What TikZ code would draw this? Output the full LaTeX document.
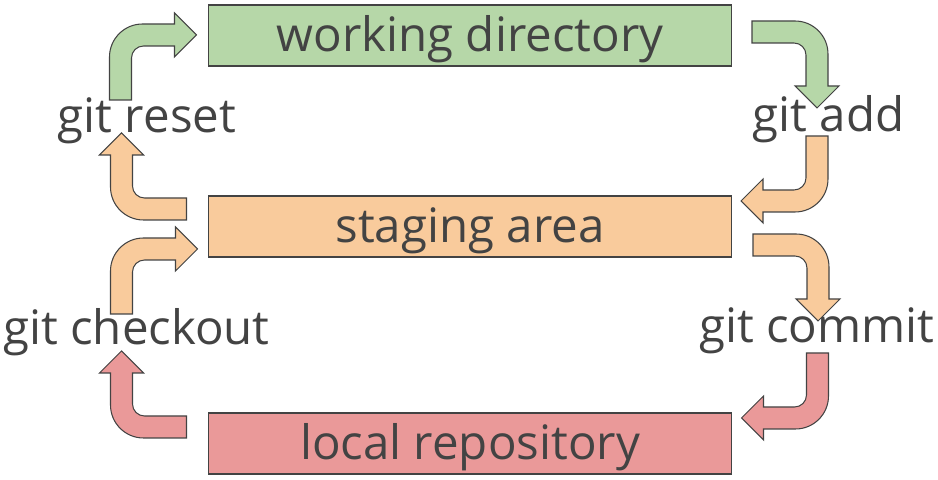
\documentclass[tikz,border=0pt]{standalone}
\usepackage{fontspec}
\setmainfont{Open Sans}
\usepackage{xcolor}
\usepackage{tikz}
\usetikzlibrary{positioning, calc}

\definecolor{wdgreen}{HTML}{B6D7A8}
\definecolor{saorange}{HTML}{F9CB9C}
\definecolor{lrred}{HTML}{EA9999}
\definecolor{edge}{HTML}{434343}
\definecolor{txt}{HTML}{434343}

% bent arrow: #1 fill, #2 corner of the bend, #3 rotation
\newcommand{\gitarrow}[3]{%
  \begin{scope}[shift={#2}, rotate=#3]
    \filldraw[fill=#1, draw=edge, line width=0.6pt, line join=miter]
      (-11,-65) -- (-11,-22) arc[start angle=180, end angle=90, radius=33]
      -- (54,11) -- (54,22) -- (76,0) -- (54,-22) -- (54,-11)
      -- (23,-11) arc[start angle=90, end angle=180, radius=12]
      -- (11,-65) -- cycle;
  \end{scope}}

\begin{document}
\begin{tikzpicture}[
    x=0.02cm, y=0.02cm,
    font=\fontsize{27}{32}\selectfont,
    stage/.style={draw=edge, line width=0.6pt, rectangle, minimum width=10.48cm, minimum height=1.22cm, inner sep=0pt, text height=0.66cm, text depth=0pt, text=txt},
    cmd/.style={anchor=base, text=txt, inner sep=0pt}
]
    \useasboundingbox (0,0) rectangle (938,480);

    % --- Areas ---
    \node[stage, fill=wdgreen] (work) at (470,444.5) {working directory};
    \node[stage, fill=saorange] (stage) at (470,253.5) {staging area};
    \node[stage, fill=lrred] (repo) at (470,36.5) {local repository};

    % --- Commands ---
    \node[cmd] (reset) at (147,347) {git reset};
    \node[cmd] (add) at (828.5,348) {git add};
    \node[cmd] (checkout) at (136.5,135) {git checkout};
    \node[cmd] (commit) at (817,137) {git commit};

    % --- Arrows ---
    \gitarrow{wdgreen}{(120.5,445)}{0}
    \gitarrow{wdgreen}{(817,448)}{-90}
    \gitarrow{saorange}{(121.5,271)}{90}
    \gitarrow{saorange}{(817,279)}{180}
    \gitarrow{saorange}{(121.5,231)}{0}
    \gitarrow{saorange}{(818,235)}{-90}
    \gitarrow{lrred}{(121.5,53)}{90}
    \gitarrow{lrred}{(817.5,62)}{180}

\end{tikzpicture}
\end{document}
